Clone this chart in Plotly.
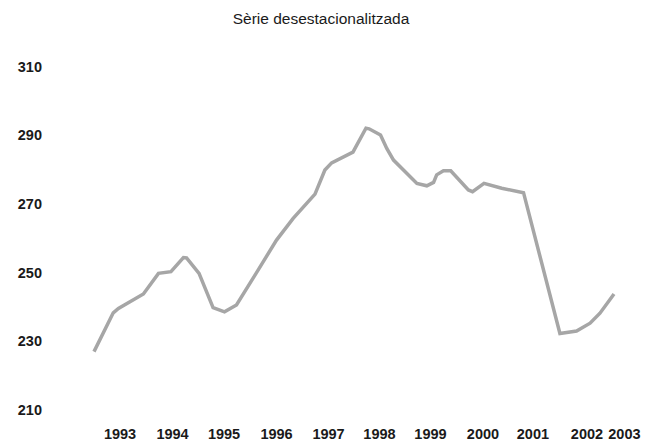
import plotly.graph_objects as go

# Period expressed as decimal year, value of the seasonally adjusted series
period = [1993.00, 1993.37, 1993.47, 1993.95, 1994.24, 1994.48, 1994.72, 1994.78,
          1995.02, 1995.29, 1995.51, 1995.74, 1996.06, 1996.51, 1996.83, 1997.25,
          1997.44, 1997.57, 1997.98, 1998.23, 1998.29, 1998.51, 1998.63, 1998.76,
          1999.21, 1999.40, 1999.53, 1999.59, 1999.72, 1999.86, 2000.20, 2000.28,
          2000.50, 2000.84, 2001.26, 2001.96, 2002.28, 2002.54, 2002.73, 2003.00]
values = [227.0, 238.3, 239.6, 243.8, 249.8, 250.3, 254.4, 254.3,
          249.8, 239.8, 238.6, 240.6, 248.4, 259.5, 265.8, 272.9,
          279.9, 282.0, 285.1, 292.1, 291.9, 290.1, 286.2, 282.8,
          276.0, 275.3, 276.3, 278.5, 279.7, 279.7, 274.1, 273.6,
          276.0, 274.6, 273.3, 232.3, 233.0, 235.3, 238.2, 243.8]

year_labels = ["1993", "1994", "1995", "1996", "1997", "1998",
               "1999", "2000", "2001", "2002", "2003"]
year_label_pos = [1993.50, 1994.51, 1995.50, 1996.51, 1997.51, 1998.49,
                  1999.47, 2000.48, 2001.44, 2002.48, 2003.20]
y_ticks = [210, 230, 250, 270, 290, 310]

tick_font = dict(family="Liberation Sans, Arial", size=14.5, color="#1a1a1a", weight="bold")

fig = go.Figure()
fig.add_trace(go.Scatter(
    x=period, y=values, mode="lines",
    line=dict(color="#a6a6a6", width=3.5),
    showlegend=False, hoverinfo="skip",
))

fig.update_layout(
    width=642, height=436,
    margin=dict(l=35, r=10, t=27, b=26),
    paper_bgcolor="white", plot_bgcolor="white",
    title=dict(text="Sèrie desestacionalitzada", x=313/642, xanchor="center",
               y=1 - 11/436, yanchor="middle", yref="container",
               font=dict(family="Liberation Sans, Arial", size=15.5, color="#1a1a1a")),
    font=dict(family="Liberation Sans, Arial", size=14, color="#1a1a1a"),
)
fig.update_xaxes(
    range=[1992.0192, 2003.5], showgrid=False, zeroline=False, showline=False,
    tickmode="array", tickvals=year_label_pos, ticktext=year_labels,
    ticks="", tickfont=tick_font, automargin=False, ticklabelstandoff=5,
    ticklabeloverflow="allow",
)
fig.update_yaxes(
    range=[207.67, 319.23], showgrid=False, zeroline=False, showline=False,
    tickmode="array", tickvals=y_ticks, ticktext=[str(v) for v in y_ticks],
    ticks="", tickfont=tick_font, automargin=False,
)

fig.write_html("out.html")
